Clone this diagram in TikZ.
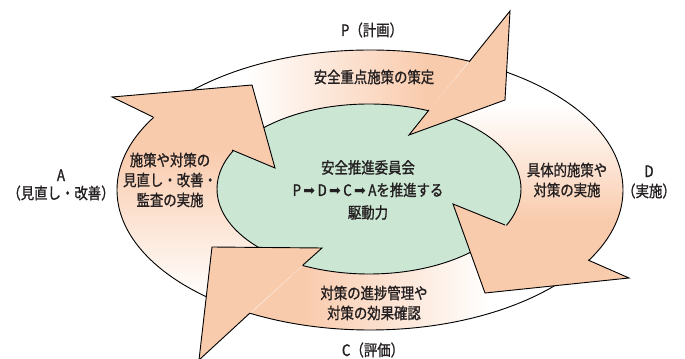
\documentclass[tikz,border=0pt]{standalone}
\usepackage{fontspec}
\usepackage{xcolor}
\usepackage{tikz}
\usetikzlibrary{calc}
\newfontfamily\jpfont{Noto Sans CJK JP}[FakeStretch=0.85, FakeBold=1.2]
\newfontfamily\symfont{DejaVu Sans}
\definecolor{ringpeach}{RGB}{249,203,173}
\definecolor{innergreen}{RGB}{204,230,212}
\definecolor{inktext}{RGB}{35,31,32}
% white -> peach, the middle of the band is where the colour changes
\pgfdeclarehorizontalshading{ringfade}{100bp}{color(0bp)=(white); color(43.75bp)=(white); color(56.25bp)=(ringpeach); color(100bp)=(ringpeach)}
\newcommand{\pdcaarrow}{{\symfont\fontsize{10}{10}\selectfont\,➡\,}}

\begin{document}
\begin{tikzpicture}[
        x=0.025cm, y=-0.025cm,
        % --- STYLES ---
        lbl/.style={
            font=\jpfont\fontsize{11.2}{14.2}\selectfont,
            text=inktext,
            align=center,
            inner sep=0pt
        },
        ringline/.style={
            draw=black,
            line width=0.65pt
        },
        headfill/.style={
            fill=ringpeach
        }
    ]
    \useasboundingbox (0,0) rectangle (685,359);

    % --- CENTRES ---
    \coordinate (O) at (370,190);
    \coordinate (Oin) at (369,189);

    % --- ARROW HEADS: outer barb, far outer corner, tip, far inner corner, inner barb ---
    \coordinate (P-ob) at (469,62);  \coordinate (P-a) at (510,11);  \coordinate (P-b) at (505,100); \coordinate (P-c) at (409,135); \coordinate (P-ib) at (429,110);
    \coordinate (D-ob) at (588,260); \coordinate (D-a) at (629,278); \coordinate (D-b) at (485,293); \coordinate (D-c) at (453,204); \coordinate (D-ib) at (505,225);
    \coordinate (C-ob) at (250,313); \coordinate (C-a) at (199,360); \coordinate (C-b) at (212,247); \coordinate (C-c) at (322,248); \coordinate (C-ib) at (303,265);
    \coordinate (A-ob) at (153,117); \coordinate (A-a) at (112,97);  \coordinate (A-b) at (252,85);  \coordinate (A-c) at (275,168); \coordinate (A-ib) at (232,150);

    % --- RING BODIES (one wedge per arrow) ---
    \foreach \prev/\cur/\ang/\mx/\my/\len in {A/P/0/335/85/180, P/D/-90/560/162.5/115, D/C/180/397.5/300/185, C/A/90/150/225/150} {
        \begin{scope}
            \clip (O) ellipse [x radius=253, y radius=140];
            \clip (\prev-a) -- ($(O)!3!(\prev-a)$) -- ($(O)!3!(\cur-a)$) -- (\cur-a) -- (\cur-c) -- (\prev-c) -- cycle;
            \shade[shading=ringfade, shading angle=\ang] (\mx-2*\len, \my-2*\len) rectangle (\mx+2*\len, \my+2*\len);
        \end{scope}
    }

    % --- INNER ELLIPSE ---
    \fill[innergreen] (Oin) ellipse [x radius=152, y radius=85];
    \draw[ringline] (O) ellipse [x radius=253, y radius=140];
    \draw[ringline] (Oin) ellipse [x radius=152, y radius=85];

    % --- HEADS ---
    \foreach \h in {P,D,C,A} {
        \fill[headfill] (\h-ob) -- (\h-a) -- (\h-b) -- (\h-c) -- (\h-ib) -- cycle;
        \draw[ringline] (\h-ob) -- (\h-a) -- (\h-b) -- (\h-c) -- (\h-ib);
    }

    % --- TEXTS ---
    \node[lbl] (labelP) at (372,30) {P（計画）};
    \node[lbl] (labelD) at (649,182) {D\\（実施）};
    \node[lbl] (labelC) at (373,350) {C（評価）};
    \node[lbl] (labelA) at (61,185) {A\\[-1.4pt]（見直し・改善）};

    \node[lbl] (textP) at (374,77) {安全重点施策の策定};
    \node[lbl] (textD) at (567,180) {具体的施策や\\対策の実施};
    \node[lbl] (textC) at (374,303) {対策の進捗管理や\\対策の効果確認};
    \node[lbl] (textA) at (170,180) {施策や対策の\\見直し・改善・\\監査の実施};
    \node[lbl, font=\jpfont\fontsize{11.2}{16}\selectfont] (committee) at (368,190) {安全推進委員会\\P\pdcaarrow D\pdcaarrow C\pdcaarrow Aを推進する\\駆動力};

\end{tikzpicture}
\end{document}
